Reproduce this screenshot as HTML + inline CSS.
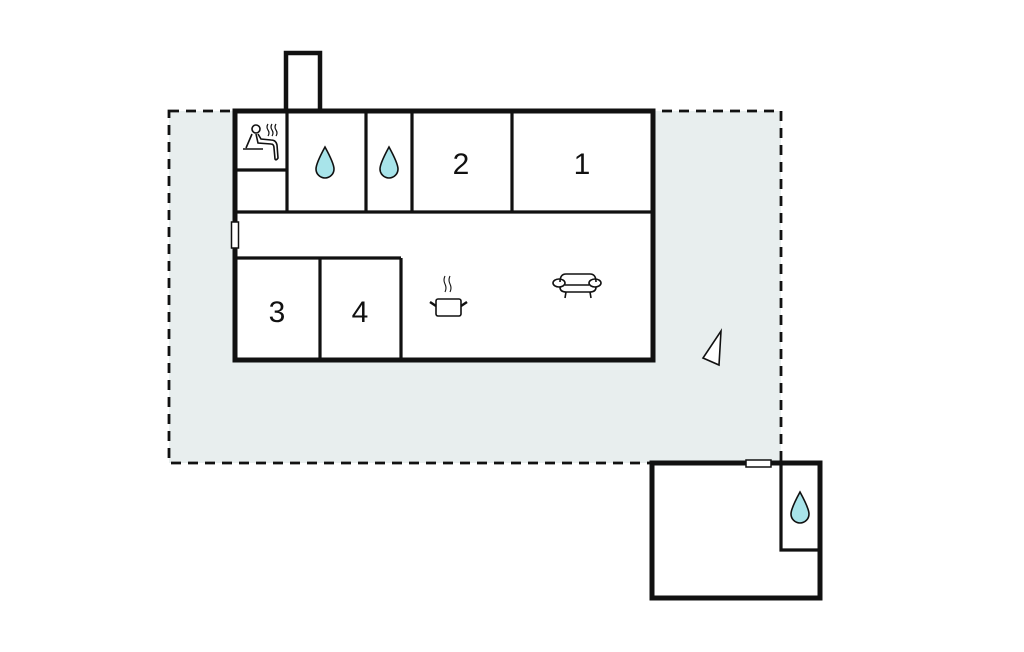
<!DOCTYPE html>
<html><head><meta charset="utf-8"><style>html,body{margin:0;padding:0;background:#fff}svg{display:block}</style></head>
<body>
<svg width="1024" height="652" viewBox="0 0 1024 652" xmlns="http://www.w3.org/2000/svg">
<rect x="169" y="111" width="612" height="352" fill="#e8eeee" stroke="#111" stroke-width="2.8" stroke-dasharray="10,7"/>
<!-- main building -->
<rect x="235" y="111" width="418" height="249" fill="#fff"/>
<rect x="286" y="53" width="34" height="58" fill="#fff" stroke="#111" stroke-width="4.5"/>
<g stroke="#111" stroke-width="3.2" fill="none">
<line x1="235" y1="212" x2="653" y2="212"/>
<line x1="287" y1="111" x2="287" y2="212"/>
<line x1="366" y1="111" x2="366" y2="212"/>
<line x1="412" y1="111" x2="412" y2="212"/>
<line x1="512" y1="111" x2="512" y2="212"/>
<line x1="235" y1="170" x2="287" y2="170"/>
<line x1="235" y1="258" x2="401" y2="258"/>
<line x1="320" y1="258" x2="320" y2="360"/>
<line x1="401" y1="258" x2="401" y2="360"/>
</g>
<rect x="235" y="111" width="418" height="249" fill="none" stroke="#111" stroke-width="5"/>
<rect x="231.5" y="222" width="7" height="26" fill="#fff" stroke="#111" stroke-width="1.5"/>
<!-- outbuilding -->
<rect x="652" y="463" width="168" height="135" fill="#fff" stroke="#111" stroke-width="5"/>
<polyline points="781,463 781,550 820,550" fill="none" stroke="#111" stroke-width="3.2"/>
<rect x="746" y="460" width="25" height="7" fill="#fff" stroke="#111" stroke-width="1.5"/>
<!-- drops -->
<g fill="#a8e4ea" stroke="#111" stroke-width="1.6">
<path d="M325,147 C319,158 316,165 316,169 A9,9 0 0 0 334,169 C334,165 331,158 325,147Z"/>
<path d="M389,147 C383,158 380,165 380,169 A9,9 0 0 0 398,169 C398,165 395,158 389,147Z"/>
<path d="M800,492 C794,503 791,510 791,514 A9,9 0 0 0 809,514 C809,510 806,503 800,492Z"/>
</g>
<!-- numbers -->
<g font-family="Liberation Sans, sans-serif" font-size="30" fill="#111" text-anchor="middle">
<text x="461" y="174">2</text>
<text x="582" y="174">1</text>
<text x="277" y="322">3</text>
<text x="360" y="322">4</text>
</g>
<!-- sauna icon -->
<g stroke="#111" stroke-width="1.6" fill="none">
<circle cx="256" cy="129" r="4"/>
<path d="M252,134 L246,148 M256,134 L258,143 L271,144 Q274,144 274,148 L275,159 Q276,161 278,158 L277,145 Q276,140 271,140 L261,139 L258,134"/>
<line x1="243" y1="149" x2="263" y2="149"/>
<path d="M268,124 q-2,3 0,6 q2,3 0,6 M272,124 q-2,3 0,6 q2,3 0,6 M276,124 q-2,3 0,6 q2,3 0,6" stroke-width="1.2"/>
</g>
<!-- pot -->
<g stroke="#111" stroke-width="1.6" fill="none">
<rect x="436" y="299" width="25" height="17" rx="2"/>
<path d="M430,302 L436,306 M467,302 L461,306" stroke-width="2.5"/>
<path d="M445,276 q-2,4 0,8 q2,4 0,8 M450,276 q-2,4 0,8 q2,4 0,8" stroke-width="1.1"/>
</g>
<!-- sofa -->
<g stroke="#111" stroke-width="1.6" fill="none">
<path d="M560,282 Q560,274 566,274 L590,274 Q596,274 596,282"/>
<ellipse cx="559" cy="283" rx="6" ry="4"/>
<ellipse cx="595" cy="283" rx="6" ry="4"/>
<line x1="565" y1="285" x2="589" y2="285"/>
<path d="M560,287 Q560,292 566,292 L590,292 Q596,292 596,287"/>
<line x1="566" y1="292" x2="565" y2="298"/>
<line x1="590" y1="292" x2="591" y2="298"/>
</g>
<!-- triangle -->
<polygon points="721,331 719,365 703,358" fill="#fff" stroke="#111" stroke-width="1.6"/>
</svg>
</body></html>
